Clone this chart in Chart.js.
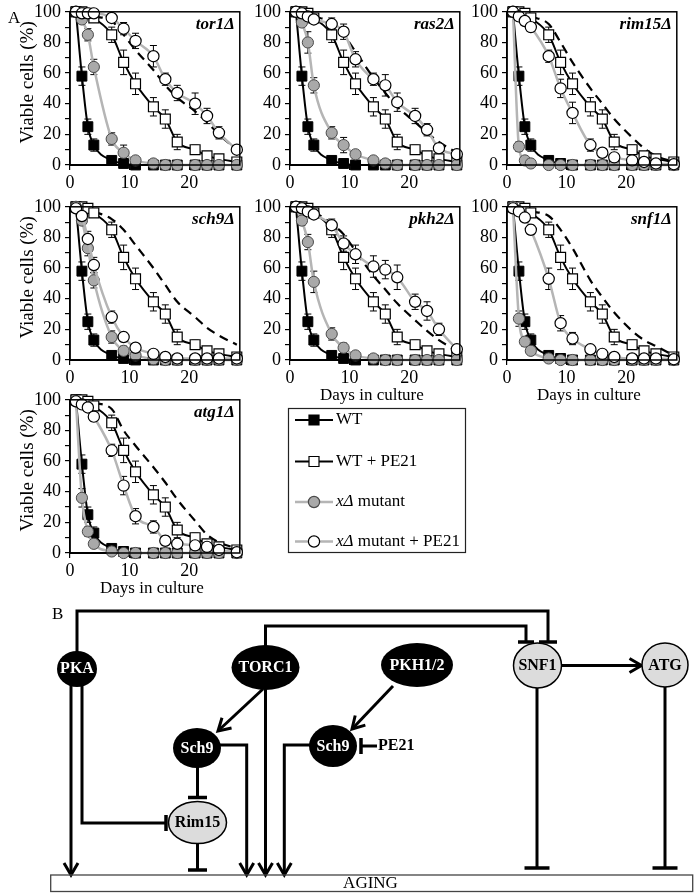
<!DOCTYPE html>
<html><head><meta charset="utf-8">
<script src="https://cdn.jsdelivr.net/npm/chart.js@4.4.0/dist/chart.umd.min.js"></script>
<style>
html,body{margin:0;padding:0;background:#fff;}
#wrap{position:relative;width:696px;height:896px;overflow:hidden;background:#fff;}
canvas{position:absolute;}
</style></head><body><div id="wrap"></div>
<script>
// ---------------- data ----------------
const DAYS = [1, 2, 3, 4, 7, 9, 11, 14, 16, 18, 21, 23, 25, 28];
const DASH_DAYS = [4, 7, 9, 11, 14, 16, 18, 21, 23, 25, 28];
const X_TICKS = [0, 10, 20];
const Y_TICKS = [0, 10, 20, 30, 40, 50, 60, 70, 80, 90, 100];

const WT          = [100, 58, 25, 13, 3, 1, 0, 0, 0, 0, 0, 0, 0, 0];
const WT_ERR      = [0, 6, 5, 4, 1, 1, 0, 0, 0, 0, 0, 0, 0, 0];
const WT_PE21     = [100, 100, 99, 96, 85, 67, 53, 38, 30, 15, 10, 6, 4, 2];
const WT_PE21_ERR = [0, 0, 1, 2, 5, 8, 7, 6, 6, 5, 3, 2, 1, 0];

const TOR1_MUT      = [100, 95, 85, 64, 17, 8, 3, 1, 0, 0, 0, 0, 0, 0];
const TOR1_MUT_ERR  = [0, 2, 4, 5, 4, 5, 1, 0, 0, 0, 0, 0, 0, 0];
const TOR1_PE21     = [100, 99, 99, 99, 96, 89, 81, 71, 56, 47, 40, 32, 21, 10];
const TOR1_PE21_ERR = [0, 0, 0, 1, 2, 4, 5, 7, 4, 5, 7, 5, 4, 2];
const TOR1_DASH     = [97, 94, 85, 75, 62, 52, 44, 35, 28, 20, 10];

const RAS2_MUT      = [100, 93, 80, 52, 21, 13, 7, 3, 1, 0, 0, 0, 0, 0];
const RAS2_MUT_ERR  = [0, 2, 7, 5, 4, 5, 2, 1, 0, 0, 0, 0, 0, 0];
const RAS2_PE21     = [100, 99, 97, 95, 92, 87, 69, 56, 52, 41, 32, 23, 11, 7];
const RAS2_PE21_ERR = [0, 0, 1, 2, 4, 5, 5, 4, 7, 6, 5, 4, 3, 1];
const RAS2_DASH     = [97, 93, 85, 74, 57, 47, 38, 28, 21, 15, 8];

const RIM15_MUT      = [100, 12, 3, 1, 0, 0, 0, 0, 0, 0, 0, 0, 0, 0];
const RIM15_MUT_ERR  = [0, 3, 1, 0, 0, 0, 0, 0, 0, 0, 0, 0, 0, 0];
const RIM15_PE21     = [100, 97, 94, 90, 71, 50, 34, 13, 8, 5, 3, 2, 1, 0.5];
const RIM15_PE21_ERR = [0, 1, 1, 2, 4, 6, 7, 4, 2, 1, 1, 0, 0, 0];
const RIM15_DASH     = [97, 92, 80, 67, 50, 40, 30, 18, 11, 6, 2];

const SCH9_MUT      = [100, 91, 73, 52, 15, 6, 3, 0.5, 0, 0, 0, 0, 0, 0];
const SCH9_MUT_ERR  = [0, 2, 5, 5, 4, 3, 2, 0, 0, 0, 0, 0, 0, 0];
const SCH9_PE21     = [99, 94, 79, 62, 28, 15, 8, 4, 2, 1, 1, 1, 1, 1];
const SCH9_PE21_ERR = [0, 2, 5, 5, 4, 3, 2, 2, 1, 0, 0, 0, 0, 0];
const SCH9_DASH     = [97, 92, 85, 75, 60, 49, 38, 28, 21, 16, 10];

const PKH2_MUT      = [100, 91, 77, 51, 17, 8, 3, 1, 0, 0, 0, 0, 0, 0];
const PKH2_MUT_ERR  = [0, 3, 5, 7, 4, 3, 1, 0, 0, 0, 0, 0, 0, 0];
const PKH2_PE21     = [100, 99, 97, 95, 88, 76, 69, 61, 59, 54, 38, 32, 20, 7];
const PKH2_PE21_ERR = [0, 0, 1, 2, 4, 5, 6, 7, 6, 8, 5, 6, 4, 1];
const PKH2_DASH     = [97, 89, 82, 71, 55, 46, 37, 26, 19, 13, 6];

const SNF1_MUT      = [100, 27, 12, 6, 1, 0, 0, 0, 0, 0, 0, 0, 0, 0];
const SNF1_MUT_ERR  = [0, 5, 3, 2, 0, 0, 0, 0, 0, 0, 0, 0, 0, 0];
const SNF1_PE21     = [99, 97, 93, 85, 53, 24, 14, 7, 4, 2, 1, 1, 1, 0.5];
const SNF1_PE21_ERR = [0, 1, 2, 3, 7, 5, 4, 2, 2, 1, 0, 0, 0, 0];
const SNF1_DASH     = [97, 94, 85, 73, 52, 41, 31, 19, 13, 9, 3];

const ATG1_MUT      = [99, 36, 14, 6, 1, 0, 0, 0, 0, 0, 0, 0, 0, 0];
const ATG1_MUT_ERR  = [0, 6, 3, 2, 0, 0, 0, 0, 0, 0, 0, 0, 0, 0];
const ATG1_PE21     = [99, 97, 95, 89, 67, 44, 24, 17, 8, 6, 5, 4, 2, 0.5];
const ATG1_PE21_ERR = [0, 1, 1, 3, 4, 6, 5, 4, 3, 3, 2, 1, 1, 0];
const ATG1_DASH     = [98, 94, 80, 70, 56, 46, 35, 21, 12, 7, 3];

const LEGEND_LABELS = ['WT', 'WT + PE21', 'xΔ mutant', 'xΔ mutant + PE21'];
const Y_TITLE = 'Viable cells (%)';
const X_TITLE = 'Days in culture';

// ---------------- styles ----------------
const FONT = "'Liberation Serif', 'Times New Roman', serif";
const GRAY_LINE = '#b5b5b5';
const GRAY_FILL = '#a9a9a9';
const wrap = document.getElementById('wrap');

const panelPlugin = {
  id: 'panelDeco',
  beforeDatasetsDraw(chart) {
    const ctx = chart.ctx, xs = chart.scales.x, ys = chart.scales.y;
    ctx.save();
    ctx.strokeStyle = '#000'; ctx.lineWidth = 1;
    chart.data.datasets.forEach(ds => {
      if (!ds.errors) return;
      ds.data.forEach((p, i) => {
        const e = ds.errors[i];
        if (!e) return;
        const x = xs.getPixelForValue(p.x);
        const y1 = ys.getPixelForValue(p.y + e);
        const y2 = ys.getPixelForValue(Math.max(0, p.y - e));
        ctx.beginPath();
        ctx.moveTo(x, y1); ctx.lineTo(x, y2);
        ctx.moveTo(x - 3.5, y1); ctx.lineTo(x + 3.5, y1);
        ctx.moveTo(x - 3.5, y2); ctx.lineTo(x + 3.5, y2);
        ctx.stroke();
      });
    });
    ctx.restore();
  },
  afterDraw(chart) {
    const ctx = chart.ctx, a = chart.chartArea, cfg = chart.options.plugins.panelDeco;
    ctx.save();
    ctx.strokeStyle = '#000'; ctx.lineWidth = 1.5;
    ctx.strokeRect(a.left, a.top, a.right - a.left, a.bottom - a.top);
    ctx.fillStyle = '#000';
    ctx.font = 'italic bold 17px ' + FONT;
    ctx.textAlign = 'right'; ctx.textBaseline = 'alphabetic';
    ctx.fillText(cfg.name, a.right - 5, a.top + 17);
    if (cfg.yTitle) {
      ctx.save();
      ctx.font = '19px ' + FONT;
      ctx.translate(28, (a.top + a.bottom) / 2 - 6);
      ctx.rotate(-Math.PI / 2);
      ctx.textAlign = 'center'; ctx.textBaseline = 'middle';
      ctx.fillText(Y_TITLE, 0, 0);
      ctx.restore();
    }
    if (cfg.xTitle) {
      ctx.font = '17px ' + FONT;
      ctx.textAlign = 'center'; ctx.textBaseline = 'middle';
      ctx.fillText(X_TITLE, (a.left + a.right) / 2 - 3, a.bottom + 36);
    }
    if (cfg.letter) {
      ctx.font = '17px ' + FONT;
      ctx.textAlign = 'left'; ctx.textBaseline = 'middle';
      ctx.fillText(cfg.letter, 8, a.top + 7);
    }
    ctx.restore();
  }
};

function pts(xs, ys) { return xs.map((x, i) => ({ x: x, y: ys[i] })); }

function mkPanel(cfg) {
  const W = 170, H = 156, PT = 12, PR = 8;
  const cw = cfg.axisW + W + PR, ch = PT + H + cfg.bottomH;
  const cv = document.createElement('canvas');
  cv.width = cw; cv.height = ch;
  cv.style.left = (cfg.L - cfg.axisW) + 'px';
  cv.style.top = (cfg.T - PT) + 'px';
  cv.style.width = cw + 'px'; cv.style.height = ch + 'px';
  wrap.appendChild(cv);
  const common = { clip: false, cubicInterpolationMode: 'monotone', fill: false };
  const datasets = [
    Object.assign({ label: 'xΔ mutant + PE21', data: pts(DAYS, cfg.pe), errors: cfg.peErr,
      borderColor: GRAY_LINE, borderWidth: 2.5, pointStyle: 'circle', pointRadius: 5.6,
      pointBackgroundColor: '#fff', pointBorderColor: '#000', pointBorderWidth: 1.2, order: 0 }, common),
    Object.assign({ label: 'xΔ mutant', data: pts(DAYS, cfg.mut), errors: cfg.mutErr,
      borderColor: GRAY_LINE, borderWidth: 2.5, pointStyle: 'circle', pointRadius: 5.6,
      pointBackgroundColor: GRAY_FILL, pointBorderColor: '#4a4a4a', pointBorderWidth: 1, order: 1 }, common),
    Object.assign({ label: 'WT + PE21', data: pts(DAYS, WT_PE21), errors: WT_PE21_ERR,
      borderColor: '#000', borderWidth: 2, pointStyle: 'rect', pointRadius: 7,
      pointBackgroundColor: '#fff', pointBorderColor: '#000', pointBorderWidth: 1.2, order: 2 }, common),
    Object.assign({ label: 'WT', data: pts(DAYS, WT), errors: WT_ERR,
      borderColor: '#000', borderWidth: 2, pointStyle: 'rect', pointRadius: 7,
      pointBackgroundColor: '#000', pointBorderColor: '#000', pointBorderWidth: 1, order: 3 }, common),
    Object.assign({ label: 'expected', data: pts(DASH_DAYS, cfg.dash),
      borderColor: '#000', borderWidth: 2.2, borderDash: [9, 6], pointRadius: 0, order: 4 }, common)
  ];
  new Chart(cv, {
    type: 'line',
    data: { datasets: datasets },
    options: {
      responsive: false, animation: false, devicePixelRatio: 1,
      layout: { padding: { top: PT, right: PR, left: 0, bottom: 0 } },
      plugins: { legend: { display: false }, tooltip: { enabled: false },
        panelDeco: { name: cfg.name, yTitle: cfg.yTitle, xTitle: cfg.xTitle, letter: cfg.letter } },
      scales: {
        x: { type: 'linear', min: 0, max: 28.5,
          afterBuildTicks: ax => { ax.ticks = X_TICKS.map(v => ({ value: v })); },
          afterFit: ax => { ax.height = cfg.bottomH; },
          grid: { display: true, drawOnChartArea: false, drawTicks: true, tickLength: 5, color: '#000', lineWidth: 1.2 },
          border: { display: true, color: '#000', width: 2 },
          ticks: { font: { family: FONT, size: 18 }, color: '#000', padding: 2, maxRotation: 0, autoSkip: false } },
        y: { type: 'linear', min: 0, max: 100,
          afterBuildTicks: ax => { ax.ticks = Y_TICKS.map(v => ({ value: v })); },
          afterFit: ax => { ax.width = cfg.axisW; },
          grid: { display: true, drawOnChartArea: false, drawTicks: true, tickLength: 5, color: '#000', lineWidth: 1.2 },
          border: { display: true, color: '#000', width: 1.5 },
          ticks: { font: { family: FONT, size: 18 }, color: '#000', padding: 4, autoSkip: false,
            callback: v => (v % 20 === 0 ? String(v) : '') } }
      }
    },
    plugins: [panelPlugin]
  });
}

mkPanel({ name: 'tor1Δ', L: 70, T: 9, axisW: 70, bottomH: 30, yTitle: true, letter: 'A',
  mut: TOR1_MUT, mutErr: TOR1_MUT_ERR, pe: TOR1_PE21, peErr: TOR1_PE21_ERR, dash: TOR1_DASH });
mkPanel({ name: 'ras2Δ', L: 290, T: 9, axisW: 40, bottomH: 30,
  mut: RAS2_MUT, mutErr: RAS2_MUT_ERR, pe: RAS2_PE21, peErr: RAS2_PE21_ERR, dash: RAS2_DASH });
mkPanel({ name: 'rim15Δ', L: 507, T: 9, axisW: 40, bottomH: 30,
  mut: RIM15_MUT, mutErr: RIM15_MUT_ERR, pe: RIM15_PE21, peErr: RIM15_PE21_ERR, dash: RIM15_DASH });
mkPanel({ name: 'sch9Δ', L: 70, T: 204, axisW: 70, bottomH: 30, yTitle: true,
  mut: SCH9_MUT, mutErr: SCH9_MUT_ERR, pe: SCH9_PE21, peErr: SCH9_PE21_ERR, dash: SCH9_DASH });
mkPanel({ name: 'pkh2Δ', L: 290, T: 204, axisW: 40, bottomH: 46, xTitle: true,
  mut: PKH2_MUT, mutErr: PKH2_MUT_ERR, pe: PKH2_PE21, peErr: PKH2_PE21_ERR, dash: PKH2_DASH });
mkPanel({ name: 'snf1Δ', L: 507, T: 204, axisW: 40, bottomH: 46, xTitle: true,
  mut: SNF1_MUT, mutErr: SNF1_MUT_ERR, pe: SNF1_PE21, peErr: SNF1_PE21_ERR, dash: SNF1_DASH });
mkPanel({ name: 'atg1Δ', L: 70, T: 397, axisW: 70, bottomH: 46, yTitle: true, xTitle: true,
  mut: ATG1_MUT, mutErr: ATG1_MUT_ERR, pe: ATG1_PE21, peErr: ATG1_PE21_ERR, dash: ATG1_DASH });

// ---------------- legend + scheme B ----------------
const OFF_Y = 400;
function ell(ctx, cx, cy, rx, ry, fill, stroke) {
  ctx.beginPath(); ctx.ellipse(cx, cy, rx, ry, 0, 0, Math.PI * 2);
  ctx.fillStyle = fill; ctx.fill();
  if (stroke) { ctx.strokeStyle = stroke; ctx.lineWidth = 1.5; ctx.stroke(); }
}
function poly(ctx, p, w) {
  ctx.beginPath(); ctx.moveTo(p[0][0], p[0][1]);
  for (let i = 1; i < p.length; i++) ctx.lineTo(p[i][0], p[i][1]);
  ctx.lineWidth = w || 3; ctx.strokeStyle = '#000'; ctx.lineJoin = 'miter'; ctx.lineCap = 'butt'; ctx.stroke();
}
function head(ctx, x, y, ang) {
  const L = 12, Wd = 7;
  ctx.save(); ctx.translate(x, y); ctx.rotate(ang);
  ctx.beginPath(); ctx.moveTo(-L, -Wd); ctx.lineTo(0, 0); ctx.lineTo(-L, Wd);
  ctx.lineWidth = 3; ctx.strokeStyle = '#000'; ctx.lineJoin = 'miter'; ctx.stroke();
  ctx.restore();
}
function tbarH(ctx, x, y, h) { poly(ctx, [[x - h, y], [x + h, y]], 3.5); }
function tbarV(ctx, x, y, h) { poly(ctx, [[x, y - h], [x, y + h]], 3.5); }
function label(ctx, t, x, y, color, font, align) {
  ctx.fillStyle = color; ctx.font = font; ctx.textAlign = align || 'center'; ctx.textBaseline = 'middle';
  ctx.fillText(t, x, y);
}

const schemePlugin = {
  id: 'scheme',
  afterDraw(chart) {
    const ctx = chart.ctx;
    ctx.save();
    ctx.translate(0, -OFF_Y);
    // legend box
    ctx.strokeStyle = '#222'; ctx.lineWidth = 1.2;
    ctx.strokeRect(288.5, 408.5, 177, 144);
    const ly = [420, 461.5, 502, 541.5];
    LEGEND_LABELS.forEach((t, i) => {
      const y = ly[i], gray = i >= 2;
      ctx.beginPath(); ctx.moveTo(295, y); ctx.lineTo(333, y);
      ctx.strokeStyle = gray ? GRAY_LINE : '#000'; ctx.lineWidth = gray ? 2.5 : 2; ctx.stroke();
      ctx.beginPath();
      if (gray) ctx.arc(314, y, 5.6, 0, Math.PI * 2); else ctx.rect(309, y - 5, 10, 10);
      ctx.fillStyle = i === 0 ? '#000' : (i === 2 ? GRAY_FILL : '#fff'); ctx.fill();
      ctx.strokeStyle = i === 2 ? '#4a4a4a' : '#000'; ctx.lineWidth = 1.2; ctx.stroke();
      ctx.fillStyle = '#000'; ctx.textAlign = 'left'; ctx.textBaseline = 'middle';
      let x = 336;
      if (t.indexOf('xΔ') === 0) {
        ctx.font = 'italic 17px ' + FONT; ctx.fillText('xΔ', x, y);
        x += ctx.measureText('xΔ').width;
        t = t.slice(2);
      }
      ctx.font = '17px ' + FONT; ctx.fillText(t, x, y);
    });

    // scheme B
    label(ctx, 'B', 52, 615, '#000', '17px ' + FONT, 'left');
    poly(ctx, [[77, 652], [77, 611], [548, 611], [548, 641]]); tbarH(ctx, 548, 642, 9);
    poly(ctx, [[265.5, 646], [265.5, 626], [526, 626], [526, 641]]); tbarH(ctx, 526, 642, 8);
    // PKA
    poly(ctx, [[71, 685], [71, 874]]); head(ctx, 71, 875, Math.PI / 2);
    poly(ctx, [[82, 685], [82, 823], [165, 823]]); tbarV(ctx, 166, 823, 8);
    // TORC1
    poly(ctx, [[263, 689], [219, 730]]); head(ctx, 218, 731, Math.atan2(731 - 689, 218 - 263));
    poly(ctx, [[265.5, 689], [265.5, 874]]); head(ctx, 265.5, 875, Math.PI / 2);
    // Sch9 left
    poly(ctx, [[220, 745], [246.7, 745], [246.7, 874]]); head(ctx, 246.7, 875, Math.PI / 2);
    poly(ctx, [[197.5, 767], [197.5, 797]]); tbarH(ctx, 197.5, 797.5, 9.5);
    // Sch9 right
    poly(ctx, [[310, 745], [284.3, 745], [284.3, 874]]); head(ctx, 284.3, 875, Math.PI / 2);
    poly(ctx, [[393, 686], [353, 728]]); head(ctx, 352, 729, Math.atan2(729 - 686, 352 - 393));
    poly(ctx, [[361, 746], [377, 746]]); tbarV(ctx, 361, 746, 8);
    label(ctx, 'PE21', 378, 746, '#000', 'bold 16px ' + FONT, 'left');
    // Rim15 to aging
    poly(ctx, [[197.5, 843], [197.5, 870]]); tbarH(ctx, 197.5, 870, 9.5);
    // SNF1 / ATG
    poly(ctx, [[561.5, 665.5], [640, 665.5]]); head(ctx, 641.5, 665.5, 0);
    poly(ctx, [[537, 688], [537, 868]]); tbarH(ctx, 537, 868, 12.5);
    poly(ctx, [[665, 687], [665, 868]]); tbarH(ctx, 665, 868, 12.5);
    // nodes
    ell(ctx, 77, 669, 20, 18, '#000'); label(ctx, 'PKA', 77, 669, '#fff', 'bold 16px ' + FONT);
    ell(ctx, 265.5, 667.5, 34, 22.5, '#000'); label(ctx, 'TORC1', 265.5, 668, '#fff', 'bold 16px ' + FONT);
    ell(ctx, 417, 665, 36, 22, '#000'); label(ctx, 'PKH1/2', 417, 665.5, '#fff', 'bold 16px ' + FONT);
    ell(ctx, 197, 748, 24, 20, '#000'); label(ctx, 'Sch9', 197, 748.5, '#fff', 'bold 16px ' + FONT);
    ell(ctx, 333, 746, 24, 21, '#000'); label(ctx, 'Sch9', 333, 746.5, '#fff', 'bold 16px ' + FONT);
    ell(ctx, 197.5, 822.5, 29, 21, '#dcdcdc', '#000'); label(ctx, 'Rim15', 197.5, 823, '#000', 'bold 16px ' + FONT);
    ell(ctx, 537.5, 665.5, 24, 22.5, '#dcdcdc', '#000'); label(ctx, 'SNF1', 537.5, 666, '#000', 'bold 16px ' + FONT);
    ell(ctx, 665, 665, 23, 22, '#dcdcdc', '#000'); label(ctx, 'ATG', 665, 665.5, '#000', 'bold 16px ' + FONT);
    // aging bar
    ctx.strokeStyle = '#444'; ctx.lineWidth = 1.3;
    ctx.strokeRect(50.7, 875, 642, 16.5);
    label(ctx, 'AGING', 370.5, 884, '#000', '17px ' + FONT);
    ctx.restore();
  }
};

const ov = document.createElement('canvas');
ov.width = 696; ov.height = 496;
ov.style.left = '0px'; ov.style.top = OFF_Y + 'px';
ov.style.width = '696px'; ov.style.height = '496px';
wrap.appendChild(ov);
new Chart(ov, {
  type: 'scatter',
  data: { datasets: [] },
  options: {
    responsive: false, animation: false, devicePixelRatio: 1,
    plugins: { legend: { display: false }, tooltip: { enabled: false } },
    scales: { x: { display: false }, y: { display: false } }
  },
  plugins: [schemePlugin]
});
</script>
</body></html>
